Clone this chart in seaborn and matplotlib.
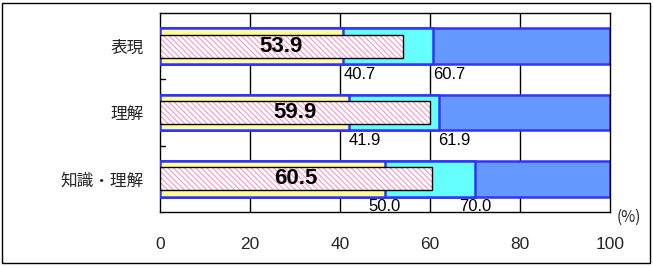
import matplotlib
matplotlib.use("Agg")
import matplotlib.pyplot as plt
import seaborn as sns
import pandas as pd
from matplotlib.patches import Rectangle

categories = ['表現', '理解', '知識・理解']
low = [40.7, 41.9, 50.0]
high = [60.7, 61.9, 70.0]
values = [53.9, 59.9, 60.5]
full = [100, 100, 100]
xticks = [0, 20, 40, 60, 80, 100]

sns.set_style("white")
plt.rcParams['font.family'] = ['Noto Sans CJK JP', 'DejaVu Sans']

fig = plt.figure(figsize=(6.53, 2.66), dpi=100)
ax = fig.add_axes([160/653, 1-212/266, 450/653, 199/266])

df = pd.DataFrame({'cat': categories, 'low': low, 'high': high, 'val': values, 'full': full})

edge = '#3333FF'
sns.barplot(data=df, x='full', y='cat', orient='h', color='#6699FF', width=0.54,
            edgecolor=edge, linewidth=1.8, saturation=1, ax=ax, zorder=2)
sns.barplot(data=df, x='high', y='cat', orient='h', color='#66FFFF', width=0.54,
            edgecolor=edge, linewidth=1.8, saturation=1, ax=ax, zorder=3)
sns.barplot(data=df, x='low', y='cat', orient='h', color='#FFFF99', width=0.54,
            edgecolor=edge, linewidth=1.8, saturation=1, ax=ax, zorder=4)
n_before = len(ax.patches)
plt.rcParams['hatch.linewidth'] = 0.7
sns.barplot(data=df, x='val', y='cat', orient='h', color='white', width=0.35,
            edgecolor='#FF88BB', linewidth=0, saturation=1, ax=ax, zorder=5)
for p in ax.patches[n_before:]:
    p.set_hatch('\\\\\\\\\\\\')
    p.set_edgecolor('#FF88BB')
    ax.add_patch(Rectangle(p.get_xy(), p.get_width(), p.get_height(), fill=False,
                           edgecolor='black', linewidth=1, zorder=6))

for i, v in enumerate(values):
    ax.text(v / 2, i, f'{v:.1f}', ha='center', va='center', fontsize=16,
            fontweight='bold', color='black', zorder=7, family='Liberation Sans')

aligns = ['left', 'left', 'center']
for i in range(len(categories)):
    for v in (low[i], high[i]):
        ax.text(v, i + 0.31, f'{v:.1f}', ha=aligns[i], va='top', fontsize=12,
                color='black', zorder=7, family='Liberation Sans')

ax.set_xlim(0, 100)
ax.set_ylim(2.5, -0.5)
ax.set_xticks(xticks)
ax.set_xticklabels([str(t) for t in xticks], fontsize=12.5, family='Liberation Sans')
ax.set_yticks(range(len(categories)))
ax.set_yticklabels(categories, fontsize=12)
ax.set_xlabel('')
ax.set_ylabel('')
for x in xticks[1:-1]:
    ax.axvline(x, color='black', linewidth=1, zorder=1)
for y in (0.5, 1.5):
    ax.plot([0, 1.0], [y, y], color='black', linewidth=1, zorder=1, clip_on=False)
ax.tick_params(axis='y', length=0, pad=12)
ax.tick_params(axis='x', length=0, pad=18)
for s in ax.spines.values():
    s.set_color('black')
    s.set_linewidth(1)
    s.set_visible(True)

fig.text(617/653, 1-217/266, '(%)', fontsize=11, ha='left', va='center')
fig.add_artist(Rectangle((2/653, 3/266), 648/653, 260/266, fill=False,
                         edgecolor='black', linewidth=1, transform=fig.transFigure))

fig.savefig('out.png', dpi=100)
